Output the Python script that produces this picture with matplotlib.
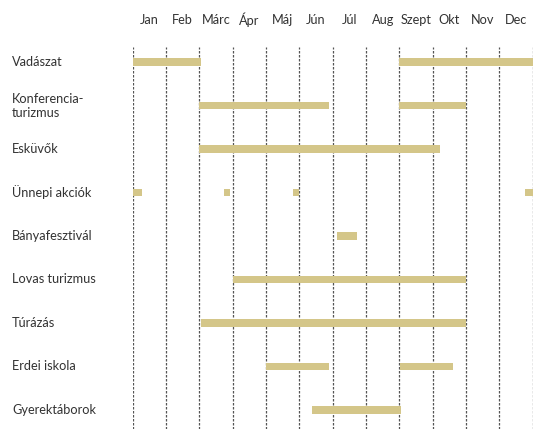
import matplotlib
matplotlib.use("Agg")
import matplotlib.pyplot as plt
import matplotlib.transforms as mtransforms

months = ["Jan", "Feb", "Márc", "Ápr", "Máj", "Jún", "Júl", "Aug", "Szept", "Okt", "Nov", "Dec"]
categories = ["Vadászat", "Konferencia-\nturizmus", "Esküvők", "Ünnepi akciók",
              "Bányafesztivál", "Lovas turizmus", "Túrázás", "Erdei iskola", "Gyerektáborok"]
# periods per category as (start_month, end_month) in fractional months (0 = Jan 1, 12 = Dec 31)
vadaszat = [(0.0, 2.05), (8.0, 12.0)]
konferencia = [(2.0, 5.88), (8.0, 10.0)]
eskuvok = [(2.0, 9.23)]
unnepi = [(0.0, 0.27), (2.75, 2.92), (4.82, 5.0), (11.78, 12.0)]
banya = [(6.14, 6.72)]
lovas = [(3.0, 10.0)]
turazas = [(2.06, 10.0)]
erdei = [(4.0, 5.9), (8.03, 9.61)]
gyerek = [(5.39, 8.05)]
periods = [vadaszat, konferencia, eskuvok, unnepi, banya, lovas, turazas, erdei, gyerek]

plt.rcParams['font.family'] = ['Lato', 'DejaVu Sans']
W, H = 536, 429
fig = plt.figure(figsize=(W / 100, H / 100), dpi=100)
ax = fig.add_axes([132.7 / W, 0, 400 / W, (H - 47) / H])
ax.set_xlim(0, 12)
ax.set_ylim(8.437, -0.345)
for s in ax.spines.values():
    s.set_visible(False)
ax.set_xticks([])
ax.set_yticks([])

bar_color = "#d4c689"
for i, per in enumerate(periods):
    ax.broken_barh([(a, b - a) for a, b in per], (i - 0.085, 0.17),
                   facecolors=bar_color, zorder=2)

for m in range(13):
    ax.axvline(m, color="#555555", lw=0.9, linestyle=(0, (2.0, 1.2)), zorder=1)

trans = mtransforms.blended_transform_factory(ax.transData, fig.transFigure)
for i, m in enumerate(months):
    ax.text(i + 0.5, 1 - 20 / H, m, transform=trans, ha="center", va="center",
            fontsize=9.2, color="#333333")

trans_y = mtransforms.blended_transform_factory(fig.transFigure, ax.transData)
for i, c in enumerate(categories):
    ax.text(12 / W, i, c, transform=trans_y, ha="left", va="center",
            fontsize=9.2, color="#333333", linespacing=1.2)

fig.savefig("out.png", dpi=100)
